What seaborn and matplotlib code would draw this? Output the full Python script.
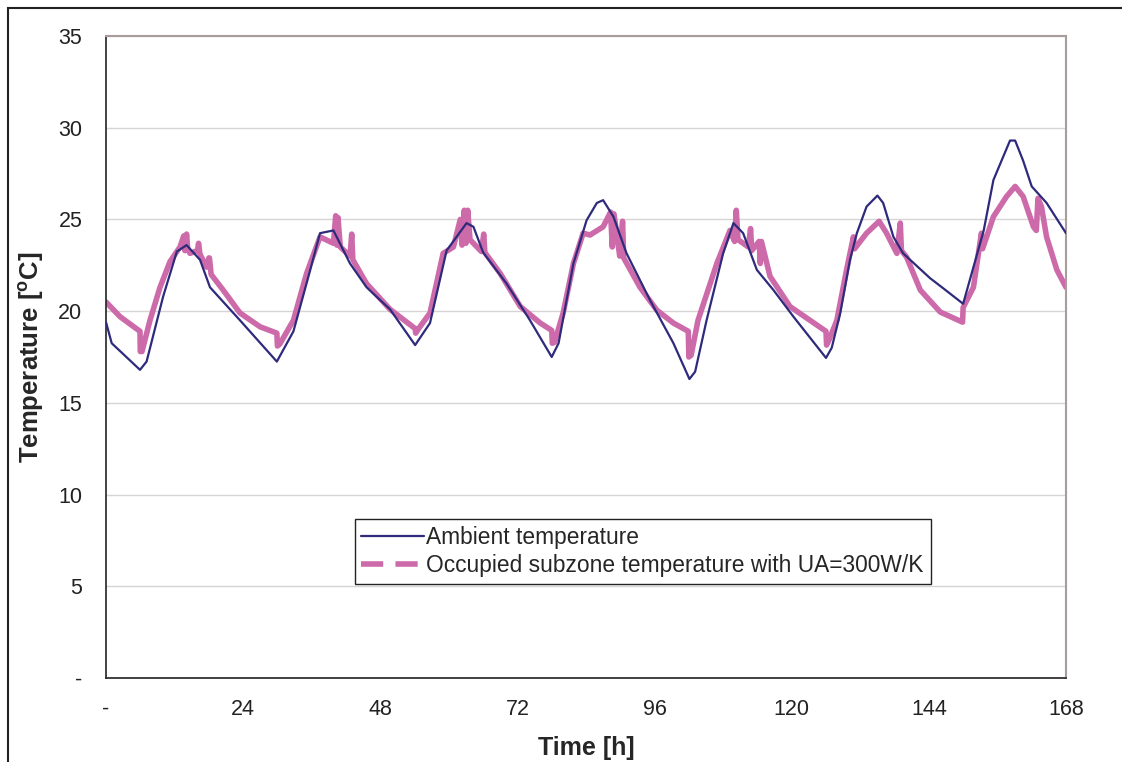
import numpy as np
import pandas as pd
import matplotlib as mpl
import matplotlib.pyplot as plt
from matplotlib.lines import Line2D
from matplotlib.patches import Rectangle
import seaborn as sns

# Ambient temperature (time [h], temperature [C])
amb_t = [0.0, 1.0, 5.95, 7.1, 10.0, 12.4, 14.1, 16.45, 18.2, 23.45, 29.9, 32.8,
         35.7, 37.45, 39.8, 42.7, 45.6, 49.7, 54.1, 56.7, 59.6, 63.1, 64.3, 66.0,
         70.1, 74.2, 78.0, 79.2, 81.8, 84.1, 85.9, 87.0, 88.8, 91.1, 95.2, 99.3,
         102.1, 103.1, 105.1, 108.0, 109.8, 111.5, 113.9, 116.8, 120.3, 126.0,
         127.0, 128.5, 130.2, 131.4, 133.1, 135.0, 136.0, 137.8, 139.5, 144.2,
         146.5, 150.0, 153.6, 155.3, 158.2, 159.1, 160.5, 162.0, 164.6, 168.0]
amb_T = [19.4, 18.25, 16.8, 17.25, 20.8, 23.25, 23.6, 22.8, 21.3, 19.5, 17.25, 18.9,
         22.2, 24.25, 24.4, 22.6, 21.3, 20.1, 18.15, 19.35, 23.3, 24.8, 24.6, 23.2,
         21.5, 19.5, 17.5, 18.25, 22.6, 24.95, 25.9, 26.05, 25.15, 23.15, 20.6, 18.25,
         16.3, 16.7, 19.5, 23.15, 24.8, 24.25, 22.25, 21.15, 19.7, 17.45,
         18.0, 19.9, 22.8, 24.25, 25.7, 26.3, 25.9, 24.05, 23.15, 21.8,
         21.25, 20.4, 24.4, 27.15, 29.3, 29.3, 28.2, 26.8, 25.9, 24.25]

# Occupied subzone temperature (UA=300W/K), incl. the short spikes and drops
occ_t = [0.0, 2.45, 5.95, 6.0, 6.3, 7.7, 9.45, 11.2, 12.95, 13.6, 13.8, 14.1, 14.3,
         14.7, 16.0, 16.2, 16.45, 17.6, 18.0, 18.1, 18.4, 20.5, 23.45, 26.95, 29.9,
         30.0, 30.4, 32.8, 35.1, 37.45, 39.8, 40.2, 40.4, 40.6, 41.0, 42.7, 43.0,
         43.2, 45.6, 49.7, 54.1, 54.2, 54.6, 56.7, 59.0, 60.8, 62.0, 62.3, 62.7,
         63.0, 63.3, 63.7, 64.3, 65.7, 66.1, 66.3, 69.0, 72.5, 76.0, 78.0, 78.1,
         78.5, 80.0, 81.8, 83.5, 84.7, 87.0, 88.3, 88.6, 88.9, 89.9, 90.4, 90.6,
         93.45, 96.4, 99.3, 101.9, 102.0, 102.4, 103.6, 106.9, 109.2, 110.0,
         110.3, 110.6, 112.4, 112.8, 113.0, 114.3, 114.5, 114.7, 116.2, 119.7,
         126.0, 126.1, 126.5, 127.9, 129.6, 130.8, 131.0, 133.1, 135.3, 136.6,
         138.4, 139.0, 139.2, 140.1, 142.5, 146.0, 149.9, 150.0, 151.8, 153.2,
         153.4, 155.3, 157.6, 159.1, 160.5, 162.3, 162.8, 163.1, 163.7, 164.6,
         166.4, 168.0]
occ_T = [20.5, 19.7, 18.9, 17.8, 17.8, 19.5, 21.3, 22.7, 23.5, 24.1, 23.3, 24.2, 23.4,
         23.15, 23.3, 23.7, 23.1, 22.4, 22.9, 22.9, 22.0, 21.15, 19.9, 19.15, 18.8,
         18.1, 18.2, 19.5, 22.05, 24.05, 23.7, 25.2, 23.6, 25.1, 23.5, 23.0, 24.2,
         22.8, 21.5, 20.1, 19.05, 18.8, 19.0, 19.9, 23.15, 23.5, 25.0, 23.6, 25.5,
         23.7, 25.5, 23.9, 23.7, 23.25, 24.2, 23.2, 22.05, 20.25, 19.35, 18.95, 18.25,
         18.3, 19.9, 22.6, 24.25, 24.15, 24.6, 25.4, 23.5, 25.3, 23.0, 24.9, 22.9,
         21.3, 20.05, 19.35, 18.9, 17.5, 17.6, 19.5, 22.6, 24.4, 23.8,
         25.5, 23.9, 23.5, 24.5, 23.3, 23.8, 22.6, 23.8, 21.9, 20.25,
         18.9, 18.15, 18.4, 19.5, 22.25, 24.05, 23.4, 24.25, 24.9, 24.25,
         23.15, 24.8, 23.3, 22.95, 21.15, 19.95, 19.4, 20.2, 21.3, 24.25,
         23.4, 25.15, 26.25, 26.8, 26.25, 24.6, 24.4, 26.15, 25.7, 24.05,
         22.25, 21.3]

x_ticks = [0, 24, 48, 72, 96, 120, 144, 168]
x_labels = ["-", "24", "48", "72", "96", "120", "144", "168"]
y_ticks = [0, 5, 10, 15, 20, 25, 30, 35]
y_labels = ["-", "5", "10", "15", "20", "25", "30", "35"]

amb_name = "Ambient temperature"
occ_name = "Occupied subzone temperature with UA=300W/K"
navy = "#2e2a7c"
pink = "#cc6aaa"

sns.set_style("white")
plt.rcParams["font.family"] = ["Liberation Sans", "DejaVu Sans"]
plt.rcParams["mathtext.fontset"] = "custom"
plt.rcParams["mathtext.rm"] = "Liberation Sans"
plt.rcParams["mathtext.bf"] = "Liberation Sans:bold"

amb_df = pd.DataFrame({"Time": amb_t, "Temp": amb_T})
occ_df = pd.DataFrame({"Time": occ_t, "Temp": occ_T})

fig = plt.figure(figsize=(11.22, 7.62), dpi=100)
ax = fig.add_axes([106 / 1122, 1 - 678 / 762, 960 / 1122, 642 / 762])

sns.lineplot(occ_df, x="Time", y="Temp", ax=ax, color=pink, linewidth=4.0,
             sort=False, estimator=None, zorder=2)
sns.lineplot(amb_df, x="Time", y="Temp", ax=ax, color=navy, linewidth=1.6,
             sort=False, estimator=None, zorder=3)

ax.set_xlim(0, 168)
ax.set_ylim(0, 35)
ax.set_xticks(x_ticks)
ax.set_xticklabels(x_labels)
ax.set_yticks(y_ticks)
ax.set_yticklabels(y_labels)
ax.tick_params(axis="both", direction="out", length=6, width=1, colors="#222222",
               labelsize=15.5, labelcolor="#222222")
ax.tick_params(axis="x", pad=9)
ax.tick_params(axis="y", pad=11)
ax.yaxis.grid(True, color="#d8d4d4", linewidth=1)
ax.set_axisbelow(True)

for side in ["left", "bottom"]:
    ax.spines[side].set_color("#222222")
    ax.spines[side].set_linewidth(1.2)
for side in ["top", "right"]:
    ax.spines[side].set_color("#a89c9c")
    ax.spines[side].set_linewidth(1.5)

ax.set_xlabel("Time [h]", fontsize=18, fontweight="bold", labelpad=12)
ax.set_ylabel(r"Temperature [$\mathbf{^{o}}$C]", fontsize=18.5, fontweight="bold",
              labelpad=9)

handles = [
    Line2D([], [], color=navy, linewidth=1.6),
    Line2D([], [], color=pink, linewidth=4.0, dashes=(4, 2.2)),
]
leg = ax.legend(handles, [amb_name, occ_name], loc="upper left",
                bbox_to_anchor=(0.259, 0.248), fontsize=16.4, frameon=True,
                fancybox=False, edgecolor="#222222", framealpha=1.0,
                borderpad=0.3, handlelength=2.75, handletextpad=0.1,
                labelspacing=0.25, borderaxespad=0)
leg.get_frame().set_linewidth(1.0)

# outer chart frame (runs off the right and bottom edges like the reference)
fig.patches.append(Rectangle((8 / 1122, -0.05), 1.2, 1 - 8 / 762 + 0.05,
                             transform=fig.transFigure, fill=False,
                             edgecolor="#222222", linewidth=1.5))

fig.savefig("out.png", dpi=100)
